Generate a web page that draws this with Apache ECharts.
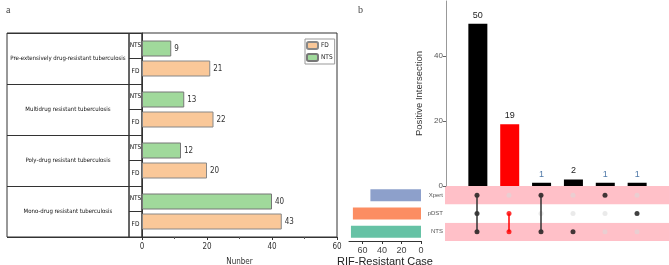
<!DOCTYPE html>
<html>
<head>
<meta charset="utf-8">
<script src="https://cdn.jsdelivr.net/npm/echarts@6/dist/echarts.min.js"></script>
<style>
  html, body { margin: 0; padding: 0; background: #fff; }
  #main { width: 669px; height: 265px; }
</style>
</head>
<body>
<div id="main"></div>
<script>
// panel a: resistance type by group (bottom to top)
const resistTypes = [
  'Mono-drug resistant tuberculosis',
  'Poly-drug resistant tuberculosis',
  'Multidrug resistant tuberculosis',
  'Pre-extensively drug-resistant tuberculosis'
];
const fdValues = [43, 20, 22, 21];
const ntsValues = [40, 12, 13, 9];
const numberTicks = [0, 20, 40, 60];

// panel b: upset plot
const setNames = ['NTS', 'pDST', 'Xpert']; // bottom to top
const setSizes = [72, 70, 52];
const setColors = ['#66C2A5', '#FC8D62', '#8DA0CB'];
const interCounts = [50, 19, 1, 2, 1, 1];
const interMembers = [
  ['Xpert', 'pDST', 'NTS'],
  ['pDST', 'NTS'],
  ['Xpert', 'NTS'],
  ['NTS'],
  ['Xpert'],
  ['pDST']
];
const interHighlight = [false, true, false, false, false, false];
const interTicks = [0, 20, 40];
const setTicks = [0, 20, 40, 60];

const narrow = "'Liberation Sans Narrow', 'DejaVu Sans Condensed', sans-serif";
const arial = "'Liberation Sans', Arial, sans-serif";

const chart = echarts.init(document.getElementById('main'));

const subLabels = [];
resistTypes.forEach(() => { subLabels.push('FD', 'NTS'); });

// upset matrix dots + connecting lines
const dotData = [];
const linkSeries = [];
interMembers.forEach((m, i) => {
  const col = i + 1;
  const c = interHighlight[i] ? '#FF0000' : '#111';
  setNames.forEach((s) => {
    const on = m.indexOf(s) >= 0;
    dotData.push({
      value: [col, s],
      itemStyle: on ? { color: c } : { color: '#D8D8D8', opacity: 0.55 },
      z: on ? 5 : 3
    });
  });
  if (m.length > 1) {
    const idx = m.map((s) => setNames.indexOf(s));
    linkSeries.push({
      type: 'line',
      xAxisIndex: 4, yAxisIndex: 4,
      data: [[col, setNames[Math.min(...idx)]], [col, setNames[Math.max(...idx)]]],
      symbol: 'none',
      lineStyle: { color: interHighlight[i] ? '#FF0000' : '#333', width: 1.5 },
      z: 4,
      silent: true
    });
  }
});

// keep grids exactly where placed
const g = (o) => Object.assign({ outerBoundsMode: 'none', containLabel: false }, o);

const option = {
  animation: false,
  title: [
    { text: 'a', left: 1, top: 0, textStyle: { fontFamily: 'Liberation Serif', fontSize: 10, fontWeight: 'normal', color: '#444' } },
    { text: 'b', left: 353, top: 0, textStyle: { fontFamily: 'Liberation Serif', fontSize: 10, fontWeight: 'normal', color: '#444' } }
  ],
  legend: {
    data: ['FD', 'NTS'],
    orient: 'vertical',
    left: 305, top: 39,
    itemWidth: 11, itemHeight: 7, itemGap: 3,
    padding: [2, 2, 2, 1],
    borderColor: '#999', borderWidth: 1,
    textStyle: { fontFamily: narrow, fontSize: 6.5, color: '#222', padding: [0, 0, 0, -2] }
  },
  grid: [
    g({ left: 7, top: 33, width: 122, height: 204, show: true, borderColor: '#333', borderWidth: 1 }),
    g({ left: 129, top: 33, width: 13, height: 204, show: true, borderColor: '#333', borderWidth: 1 }),
    g({ left: 142, top: 33, width: 195, height: 204, show: true, borderColor: '#333', borderWidth: 1 }),
    g({ left: 446, top: 1, width: 223, height: 185 }),
    g({ left: 445, top: 186, width: 224, height: 55 }),
    g({ left: 349, top: 186, width: 72, height: 55 })
  ],
  xAxis: [
    { gridIndex: 0, type: 'value', show: false },
    { gridIndex: 1, type: 'value', show: false },
    {
      gridIndex: 2, type: 'value', min: 0, max: 60, interval: 20,
      axisLine: { show: true, lineStyle: { color: '#333' } },
      axisTick: { show: true, length: 3, lineStyle: { color: '#333' } },
      minorTick: { show: true, splitNumber: 2, length: 2, lineStyle: { color: '#555' } },
      splitLine: { show: false },
      axisLabel: { fontFamily: narrow, fontSize: 8, color: '#333', margin: 6,
        customValues: numberTicks },
      name: 'Nunber', nameLocation: 'middle', nameGap: 21,
      nameTextStyle: { fontFamily: narrow, fontSize: 8, color: '#333' }
    },
    { gridIndex: 3, type: 'value', min: 0, max: 7, show: false },
    { gridIndex: 4, type: 'value', min: 0, max: 7, show: false },
    {
      gridIndex: 5, type: 'value', min: 0, max: 74, inverse: true,
      axisLine: { show: true, lineStyle: { color: '#333' } },
      axisTick: { show: true, length: 3, customValues: setTicks, lineStyle: { color: '#333' } },
      axisLabel: { customValues: setTicks, fontFamily: arial, fontSize: 9, color: '#444', margin: 5 },
      splitLine: { show: false },
      name: 'RIF-Resistant Case', nameLocation: 'middle', nameGap: 15,
      nameTextStyle: { fontFamily: arial, fontSize: 11, color: '#222' }
    }
  ],
  yAxis: [
    {
      gridIndex: 0, type: 'category', data: resistTypes,
      axisLine: { show: false }, axisTick: { show: false },
      splitLine: { show: true, lineStyle: { color: '#333' } },
      axisLabel: { inside: true, margin: 61, align: 'center', fontFamily: narrow, fontSize: 6, color: '#111' }
    },
    {
      gridIndex: 1, type: 'category', data: subLabels,
      axisLine: { show: false }, axisTick: { show: false },
      splitLine: { show: true, lineStyle: { color: '#333' } },
      axisLabel: { inside: true, margin: 6.5, align: 'center', fontFamily: narrow, fontSize: 6.5, color: '#111' }
    },
    {
      gridIndex: 2, type: 'category', data: resistTypes,
      axisLine: { show: true, lineStyle: { color: '#333' } },
      axisTick: { show: false }, axisLabel: { show: false }
    },
    {
      gridIndex: 3, type: 'value', min: 0, max: 57,
      axisLine: { show: true, lineStyle: { color: '#999' } },
      axisTick: { show: true, length: 3, customValues: interTicks, lineStyle: { color: '#666' } },
      axisLabel: { customValues: interTicks, fontFamily: arial, fontSize: 8, color: '#555', margin: 3 },
      splitLine: { show: false },
      name: 'Positive Intersection', nameLocation: 'middle', nameGap: 22, nameRotate: 90,
      nameTextStyle: { fontFamily: arial, fontSize: 9.5, color: '#333' }
    },
    {
      gridIndex: 4, type: 'category', data: setNames,
      axisLine: { show: false }, axisTick: { show: false },
      axisLabel: { fontFamily: arial, fontSize: 6, color: '#555', margin: 2 },
      splitArea: { show: true, areaStyle: { color: ['#FFC0C8', '#FFFFFF'] } }
    },
    {
      gridIndex: 5, type: 'category', data: setNames, show: false
    }
  ],
  series: [
    {
      name: 'NTS', type: 'bar', xAxisIndex: 2, yAxisIndex: 2,
      data: ntsValues, barWidth: 16, barGap: '25%',
      itemStyle: { color: '#A0D99B', borderColor: '#777', borderWidth: 1 },
      label: { show: true, position: 'right', distance: 3, fontFamily: narrow, fontSize: 8, color: '#333' }
    },
    {
      name: 'FD', type: 'bar', xAxisIndex: 2, yAxisIndex: 2,
      data: fdValues, barWidth: 16, barGap: '25%',
      itemStyle: { color: '#FAC899', borderColor: '#888', borderWidth: 1 },
      label: { show: true, position: 'right', distance: 3, fontFamily: narrow, fontSize: 8, color: '#333' }
    },
    {
      type: 'bar', xAxisIndex: 3, yAxisIndex: 3, barWidth: 19,
      data: interCounts.map((v, i) => ({
        value: [i + 1, v],
        itemStyle: { color: interHighlight[i] ? '#FF0000' : '#000' },
        label: { color: v === 1 ? '#4F79A8' : '#222' }
      })),
      label: { show: true, position: 'top', distance: 4, fontFamily: arial, fontSize: 9,
        formatter: (p) => p.value[1] }
    },
    {
      type: 'scatter', xAxisIndex: 4, yAxisIndex: 4,
      data: dotData, symbolSize: 5, silent: true
    },
    ...linkSeries,
    {
      type: 'bar', xAxisIndex: 5, yAxisIndex: 5, barWidth: 12,
      data: setSizes.map((v, i) => ({ value: v, itemStyle: { color: setColors[i] } }))
    }
  ]
};

chart.setOption(option);
</script>
</body>
</html>
